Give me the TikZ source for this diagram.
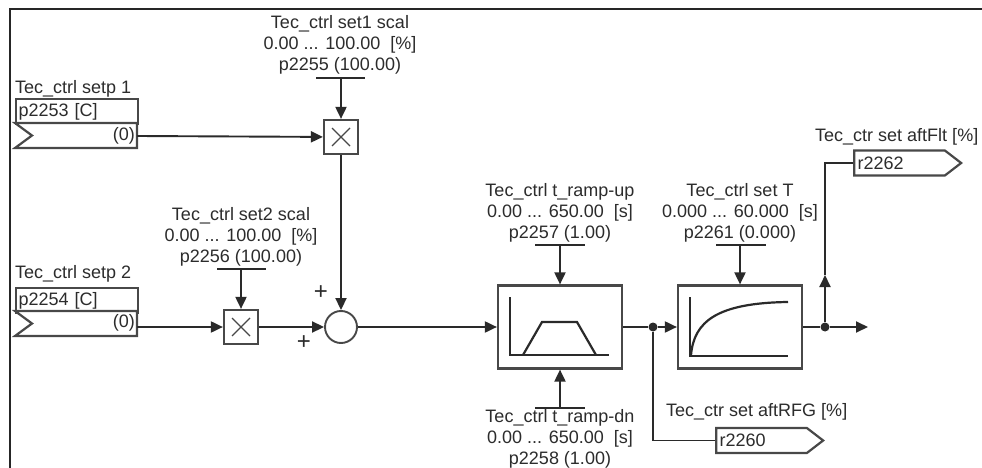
\documentclass[tikz,border=0pt]{standalone}
\usepackage{fontspec}
\setmainfont{Liberation Sans}
\usetikzlibrary{arrows.meta,shapes.symbols}
\definecolor{lin}{HTML}{2A2A2A}
\definecolor{box}{HTML}{484848}
\definecolor{txt}{HTML}{2C2C2C}
\begin{document}
\begin{tikzpicture}[x=1pt,y=-1pt,
  every node/.style={font=\fontsize{18}{21}\selectfont, text=txt, inner sep=0pt},
  wire/.style={draw=lin, line width=1.9pt},
  arr/.style={wire, -{Triangle[length=12pt,width=11pt]}},
  blk/.style={draw=box, line width=2.2pt, fill=white},
  lbl/.style={align=center},
  bar/.style={draw=lin, line width=2pt},
  sign/.style={font=\fontsize{24}{24}\selectfont},
  jdot/.style={circle, fill=lin, minimum size=9pt, inner sep=0pt},
  outsig/.style={blk, signal, signal to=east, signal pointer angle=75,
    minimum width=107pt, minimum height=25pt, text width=84pt, align=left, inner xsep=3pt},
  parbox/.style={blk, minimum width=122pt, minimum height=25pt, text width=117pt,
    align=left, inner xsep=2.5pt, anchor=north west},
  mulbox/.style={blk, minimum size=34pt},
  fbox/.style={blk, minimum width=124pt, minimum height=83pt},
]
\useasboundingbox (0,0) rectangle (982,468);
\fill[white] (0,0) rectangle (982,468);
% frame
\draw[line width=2.4pt, draw=black!85] (10,470) -- (10,9) -- (983,9);

% ---------- input 1
\node[anchor=north west] (in1lbl) at (15,80.5) {Tec\_ctrl setp 1};
\node[parbox] (in1par) at (15,98) {p2253 [C]};
\draw[blk] (15,123) -- (137,123) -- (137,148) -- (15,148) -- (32,135.5) -- cycle;
\node[anchor=east] (in1def) at (135,135.5) {(0)};
\coordinate (in1) at (137,136);

% ---------- input 2
\node[anchor=north west] (in2lbl) at (15,265.5) {Tec\_ctrl setp 2};
\node[parbox] (in2par) at (15,287) {p2254 [C]};
\draw[blk] (15,311) -- (137,311) -- (137,336) -- (15,336) -- (32,323.5) -- cycle;
\node[anchor=east] (in2def) at (135,322.5) {(0)};
\coordinate (in2) at (137,327);

% ---------- multiplier 1
\node[mulbox] (mul1) at (341,137) {};
\draw[line width=1.1pt, draw=box] (332,128) -- ++(18,18) ++(0,-18) -- ++(-18,18);
\node[lbl, anchor=north] (mul1lbl) at (340,15.5)
  {Tec\_ctrl set1 scal\\0.00 ... 100.00\ \ [\%]\\p2255 (100.00)};
\draw[bar] (316,78) -- (365,78);
\coordinate (mul1bar) at (341,78);

% ---------- multiplier 2
\node[mulbox] (mul2) at (241,327) {};
\draw[line width=1.1pt, draw=box] (232,318) -- ++(18,18) ++(0,-18) -- ++(-18,18);
\node[lbl, anchor=north] (mul2lbl) at (241,207.5)
  {Tec\_ctrl set2 scal\\0.00 ... 100.00\ \ [\%]\\p2256 (100.00)};
\draw[bar] (217,269) -- (266,269);
\coordinate (mul2bar) at (241,269);

% ---------- sum
\node[circle, draw=box, line width=1.9pt, minimum size=32pt, fill=white] (sum) at (341,327) {};
\node[sign] (plus1) at (321,293) {+};
\node[sign] (plus2) at (304,343) {+};

% ---------- ramp function generator
\node[fbox] (ramp) at (560,327) {};
\draw[line width=2.2pt, draw=lin] (510,297) -- (510,355) -- (609,355);
\draw[line width=2.2pt, draw=lin] (523,355) -- (542,322) -- (577,322) -- (596,355);
\node[lbl, anchor=north] (rulbl) at (560,183.5)
  {Tec\_ctrl t\_ramp-up\\0.00 ... 650.00\ \ [s]\\p2257 (1.00)};
\draw[bar] (535,245) -- (585,245);
\coordinate (rubar) at (560,245);
\draw[bar] (535,408) -- (585,408);
\coordinate (rdbar) at (560,408);
\node[lbl, anchor=north] (rdlbl) at (560,409)
  {Tec\_ctrl t\_ramp-dn\\0.00 ... 650.00\ \ [s]\\p2258 (1.00)};

% ---------- PT1 filter
\node[fbox] (tblk) at (740,327) {};
\draw[line width=2.2pt, draw=lin] (690,297) -- (690,356) -- (788,356);
\draw[line width=2.2pt, draw=lin] (691,355) .. controls (694,322) and (716,303) .. (788,302);
\node[lbl, anchor=north] (tlbl) at (740,183.5)
  {Tec\_ctrl set T\\0.000 ... 60.000\ \ [s]\\p2261 (0.000)};
\draw[bar] (716,245) -- (766,245);
\coordinate (tbar) at (740,245);

% ---------- outputs
\node[jdot] (d1) at (653,327) {};
\node[jdot] (d2) at (825,327) {};
\coordinate (tout) at (868,327);
\coordinate (upA) at (825,275);
\node[outsig] (r2260) at (761.5,440.5) {r2260};
\node[anchor=north west] (r2260lbl) at (666,403.5) {Tec\_ctr set aftRFG [\%]};
\node[outsig] (r2262) at (899.5,163) {r2262};
\node[anchor=north west] (r2262lbl) at (815,128.5) {Tec\_ctr set aftFlt [\%]};

% ---------- connectors
\draw[arr] (in1) -- (mul1);
\draw[arr] (mul1bar) -- (mul1);
\draw[arr] (mul1) -- (sum);
\draw[arr] (in2) -- (mul2);
\draw[arr] (mul2bar) -- (mul2);
\draw[arr] (mul2) -- (sum);
\draw[arr] (sum) -- (ramp);
\draw[arr] (rubar) -- (ramp);
\draw[arr] (rdbar) -- (ramp);
\draw[wire] (ramp) -- (d1);
\draw[arr] (d1) -- (tblk);
\draw[wire] (d1) |- (r2260);
\draw[arr] (tbar) -- (tblk);
\draw[wire] (tblk) -- (d2);
\draw[arr] (d2) -- (tout);
\draw[arr] (d2) -- (upA);
\draw[wire] (upA) |- (r2262);
\end{tikzpicture}
\end{document}
